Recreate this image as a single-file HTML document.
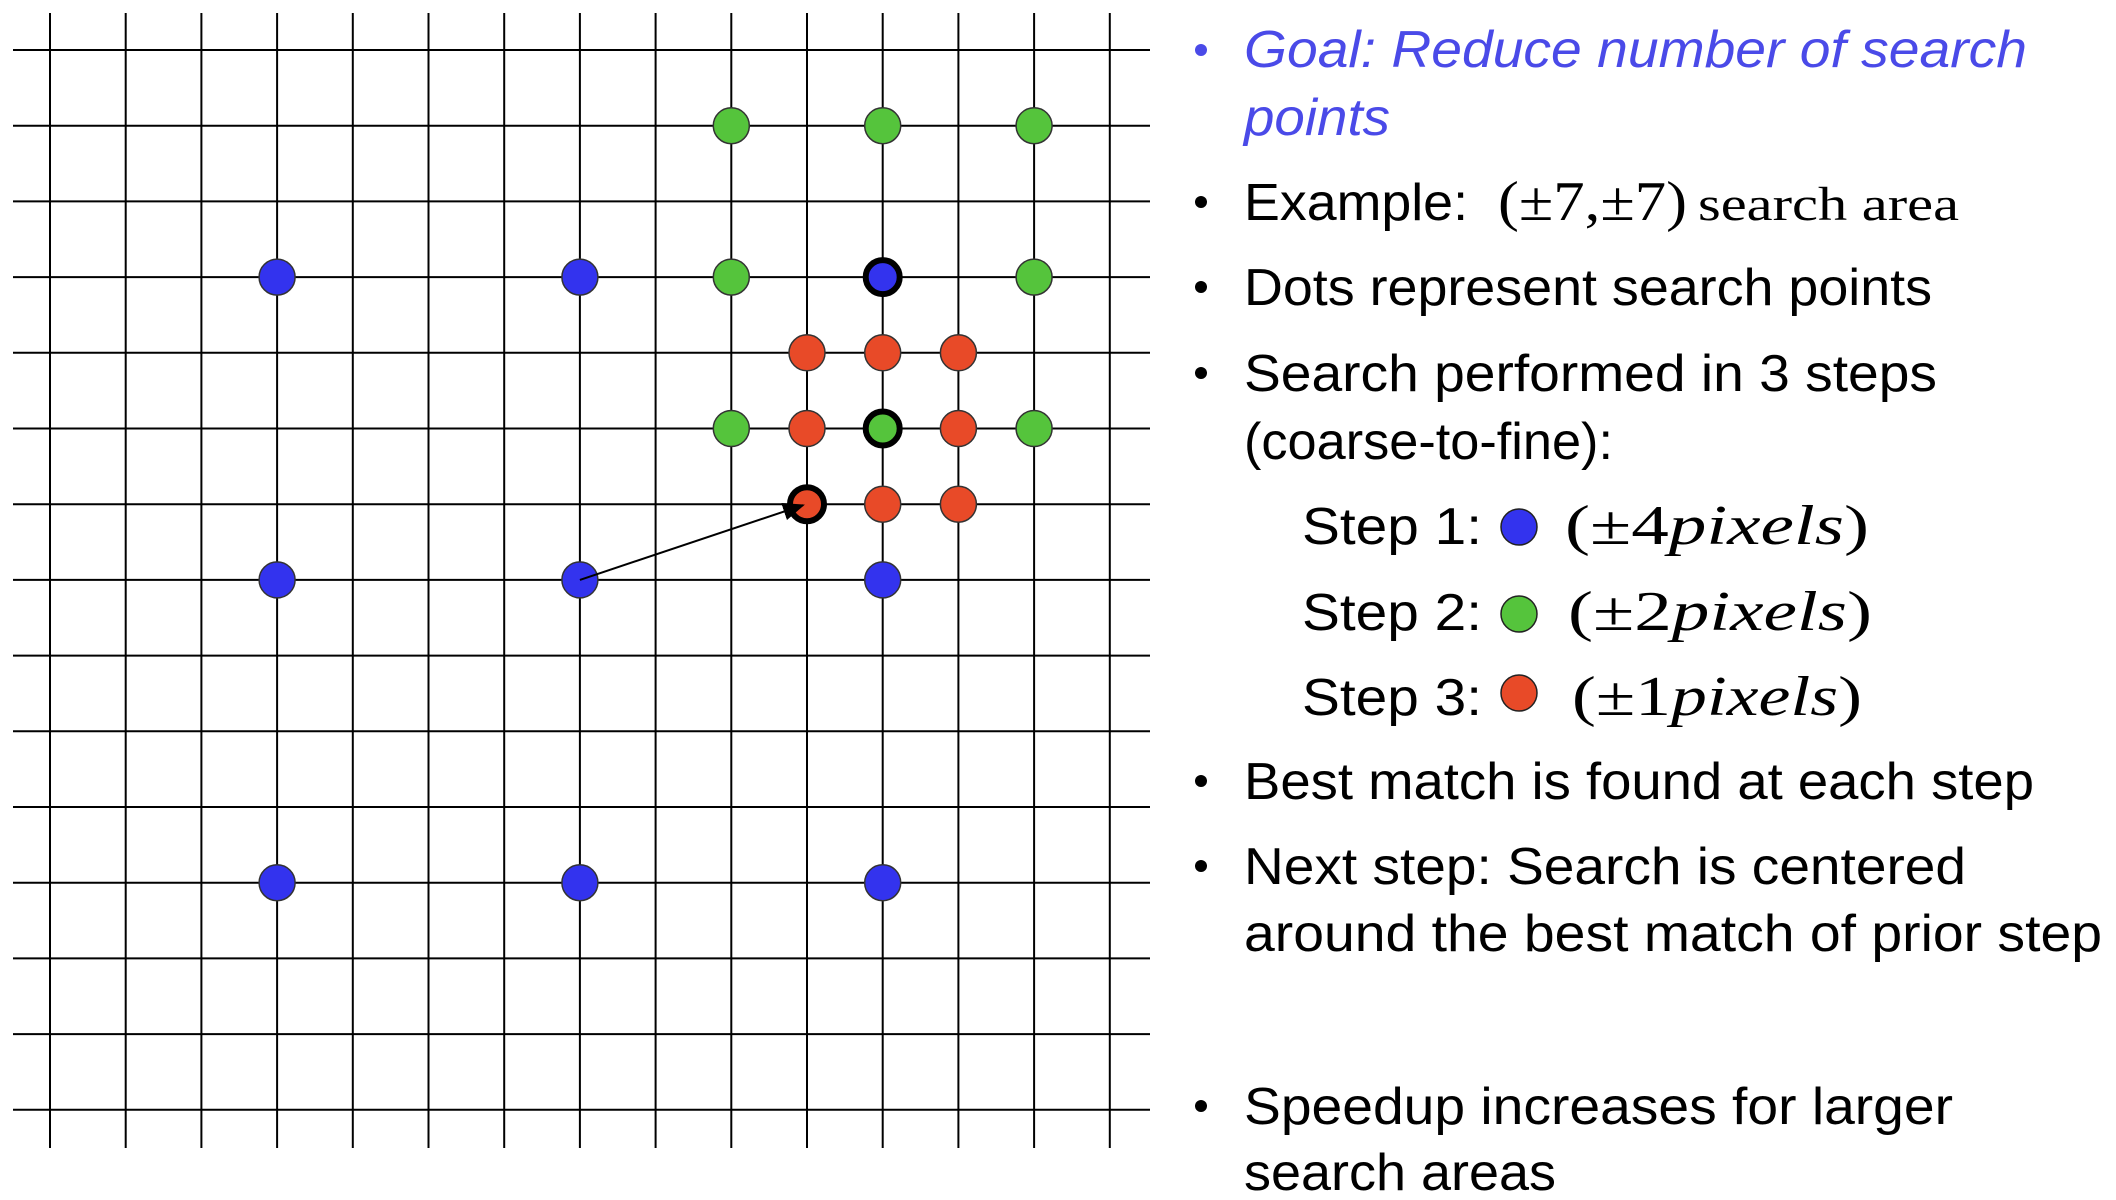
<!DOCTYPE html>
<html><head><meta charset="utf-8"><style>
html,body{margin:0;padding:0;background:#fff;}
svg{display:block;}
.t{font-family:"Liberation Sans",sans-serif;font-size:52px;fill:#000;}
.m{font-family:"Liberation Serif",serif;font-size:56px;fill:#000;}
</style></head><body>
<svg id="chart" width="2116" height="1200" viewBox="0 0 2116 1200" xmlns="http://www.w3.org/2000/svg">
<defs><marker id="ah" markerWidth="22" markerHeight="18" refX="20" refY="9" orient="auto" markerUnits="userSpaceOnUse" viewBox="0 0 22 18"><path d="M0,0 L22,9 L0,18 z" fill="#000"/></marker></defs>
<g id="grid"></g>
<g id="dots"></g>
<g>
<circle cx="1201" cy="50" r="6" fill="#4a4ae8"/>
<text class="t" x="1244" y="67" textLength="783" lengthAdjust="spacingAndGlyphs" style="fill:#4a4ae8;font-style:italic">Goal: Reduce number of search</text>
<text class="t" x="1244" y="135" textLength="146" lengthAdjust="spacingAndGlyphs" style="fill:#4a4ae8;font-style:italic">points</text>
<circle cx="1201" cy="202" r="6" fill="#000"/>
<text class="t" x="1244" y="220" textLength="224" lengthAdjust="spacingAndGlyphs">Example:</text>
<text class="m" x="1498" y="220" textLength="189" lengthAdjust="spacingAndGlyphs">(±7,±7)</text>
<text class="m" x="1698" y="220" style="font-size:48px" textLength="261" lengthAdjust="spacingAndGlyphs">search area</text>
<circle cx="1201" cy="287" r="6" fill="#000"/>
<text class="t" x="1244" y="305" textLength="688" lengthAdjust="spacingAndGlyphs">Dots represent search points</text>
<circle cx="1201" cy="373" r="6" fill="#000"/>
<text class="t" x="1244" y="391" textLength="693" lengthAdjust="spacingAndGlyphs">Search performed in 3 steps</text>
<text class="t" x="1244" y="459" textLength="369" lengthAdjust="spacingAndGlyphs">(coarse-to-fine):</text>
<g>
<text class="t" x="1302" y="544" textLength="180" lengthAdjust="spacingAndGlyphs">Step 1:</text>
<circle cx="1519" cy="527" r="18" fill="#3333ee" stroke="#222" stroke-width="1.5"/>
<text class="m" x="1565" y="544" textLength="304" lengthAdjust="spacingAndGlyphs">(±4<tspan font-style="italic">pixels</tspan>)</text>
<text class="t" x="1302" y="630" textLength="180" lengthAdjust="spacingAndGlyphs">Step 2:</text>
<circle cx="1519" cy="614" r="18" fill="#55c43c" stroke="#222" stroke-width="1.5"/>
<text class="m" x="1568" y="630" textLength="304" lengthAdjust="spacingAndGlyphs">(±2<tspan font-style="italic">pixels</tspan>)</text>
<text class="t" x="1302" y="715" textLength="180" lengthAdjust="spacingAndGlyphs">Step 3:</text>
<circle cx="1519" cy="693" r="18" fill="#e84a28" stroke="#222" stroke-width="1.5"/>
<text class="m" x="1572" y="715" textLength="290" lengthAdjust="spacingAndGlyphs">(±1<tspan font-style="italic">pixels</tspan>)</text>
</g>
<circle cx="1201" cy="781" r="6" fill="#000"/>
<text class="t" x="1244" y="799" textLength="790" lengthAdjust="spacingAndGlyphs">Best match is found at each step</text>
<circle cx="1201" cy="866" r="6" fill="#000"/>
<text class="t" x="1244" y="884" textLength="722" lengthAdjust="spacingAndGlyphs">Next step: Search is centered</text>
<text class="t" x="1244" y="951" textLength="858" lengthAdjust="spacingAndGlyphs">around the best match of prior step</text>
<circle cx="1201" cy="1106" r="6" fill="#000"/>
<text class="t" x="1244" y="1124" textLength="709" lengthAdjust="spacingAndGlyphs">Speedup increases for larger</text>
<text class="t" x="1244" y="1190" textLength="312" lengthAdjust="spacingAndGlyphs">search areas</text>
</g>
</svg>
<script>
const blueCols=[3,7,11,3,7,11,3,7,11];
const blueRows=[3,3,3,7,7,7,11,11,11];
const greenCols=[9,11,13,9,13,9,11,13];
const greenRows=[1,1,1,3,3,5,5,5];
const redCols=[10,11,12,10,12,10,11,12];
const redRows=[4,4,4,5,5,6,6,6];
const bestCols=[11,11,10];
const bestRows=[3,5,6];
const arrowFrom=[7,7];
const arrowTo=[10,6];
const NS="http://www.w3.org/2000/svg";
const X=i=>50+75.7*i, Y=j=>50+75.7*j;
const grid=document.getElementById('grid');
for(let i=0;i<15;i++){
  const l=document.createElementNS(NS,'line');
  l.setAttribute('x1',X(i));l.setAttribute('x2',X(i));l.setAttribute('y1',13);l.setAttribute('y2',1148);
  l.setAttribute('stroke','#000');l.setAttribute('stroke-width','2');
  
  
  grid.appendChild(l);
  const h=document.createElementNS(NS,'line');
  h.setAttribute('x1',13);h.setAttribute('x2',1150);h.setAttribute('y1',Y(i));h.setAttribute('y2',Y(i));
  h.setAttribute('stroke','#000');h.setAttribute('stroke-width','2');
  
  
  grid.appendChild(h);
}
const dots=document.getElementById('dots');
function draw(cols,rows,color,name){
  cols.forEach((c,k)=>{
    const e=document.createElementNS(NS,'circle');
    e.setAttribute('cx',X(c));e.setAttribute('cy',Y(rows[k]));e.setAttribute('r',18);
    e.setAttribute('fill',color);e.setAttribute('stroke','#333');e.setAttribute('stroke-width','1.5');
    
    
    dots.appendChild(e);
  });
}
draw(blueCols,blueRows,'#3333ee','step1-point');
draw(greenCols,greenRows,'#55c43c','step2-point');
draw(redCols,redRows,'#e84a28','step3-point');
bestCols.forEach((c,k)=>{
  const e=document.createElementNS(NS,'circle');
  e.setAttribute('cx',X(c));e.setAttribute('cy',Y(bestRows[k]));e.setAttribute('r',17);
  e.setAttribute('fill','none');e.setAttribute('stroke','#000');e.setAttribute('stroke-width','6');
  
  
  dots.appendChild(e);
});
const a=document.createElementNS(NS,'line');
a.setAttribute('x1',X(arrowFrom[0]));a.setAttribute('y1',Y(arrowFrom[1]));
a.setAttribute('x2',X(arrowTo[0])-4);a.setAttribute('y2',Y(arrowTo[1])+1);
a.setAttribute('stroke','#000');a.setAttribute('stroke-width','2');a.setAttribute('marker-end','url(#ah)');


dots.appendChild(a);
</script>
</body></html>
